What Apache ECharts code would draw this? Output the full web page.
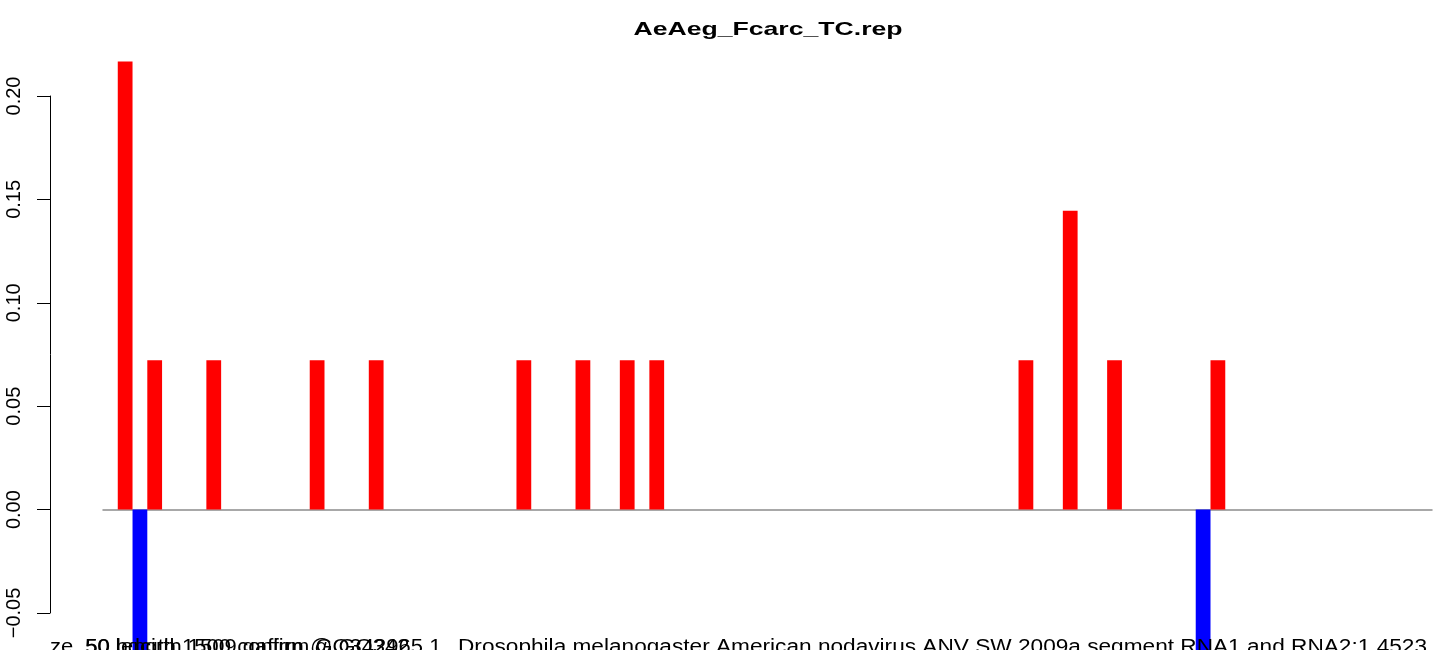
<!DOCTYPE html>
<html>
<head>
<meta charset="utf-8">
<script src="https://cdn.jsdelivr.net/npm/echarts@6/dist/echarts.min.js"></script>
<style>
html,body{margin:0;padding:0;background:#fff;}
#chart{width:1439px;height:650px;}
</style>
</head>
<body>
<div id="chart"></div>
<script>
// ---- data ----
const chartTitle = "AeAeg_Fcarc_TC.rep";
const slotCount = 90;                       // number of bar slots along the x axis
const categories = Array.from({length: slotCount}, (_, i) => String(i + 1));
const redSlots  = [1, 3, 7, 14, 18, 28, 32, 35, 37, 62, 65, 68, 75];
const redValues = [0.2167, 0.0722, 0.0722, 0.0722, 0.0722, 0.0722, 0.0722, 0.0722, 0.0722, 0.0722, 0.1445, 0.0722, 0.0722];
const blueSlots  = [2, 74];
const blueValues = [-0.0722, -0.0722];
const yTicks = [-0.05, 0.00, 0.05, 0.10, 0.15, 0.20];
const labelPrefixA = "ze_50 length 1500 confirm GQ342965.1";
const labelPrefixB = "50 bdcirth 1509 gafirm @ GQ342";
const labelDesc = "Drosophila melanogaster American nodavirus ANV SW 2009a segment RNA1 and RNA2:1 4523";

// ---- build series arrays ----
function buildSeries(slots, values) {
  const arr = new Array(slotCount).fill(null);
  slots.forEach((s, k) => { arr[s] = values[k]; });
  return arr;
}
const redData = buildSeries(redSlots, redValues);
const blueData = buildSeries(blueSlots, blueValues);

const FONT = "'Liberation Sans', Arial, Helvetica, sans-serif";
const chart = echarts.init(document.getElementById('chart'), null, {renderer: 'canvas'});
const labelStyle = {fontSize: 20, fontFamily: FONT, fill: '#000', align: 'left', verticalAlign: 'top'};
chart.setOption({
  animation: false,
  backgroundColor: '#ffffff',
  grid: {left: 103, right: 7, top: 96, bottom: 37, containLabel: false},
  xAxis: {
    type: 'category',
    data: categories,
    boundaryGap: true,
    axisLine: {show: true, onZero: true, lineStyle: {color: '#8c8c8c', width: 1.5}},
    axisTick: {show: false},
    axisLabel: {show: false},
    splitLine: {show: false}
  },
  yAxis: {
    type: 'value',
    min: yTicks[0],
    max: yTicks[yTicks.length - 1],
    interval: 0.05,
    offset: 53,
    axisLine: {show: true, lineStyle: {color: '#000', width: 1}},
    axisTick: {show: true, length: 13, lineStyle: {color: '#000', width: 1}},
    splitLine: {show: false},
    axisLabel: {
      rotate: 90,
      margin: 26,
      fontSize: 20,
      fontFamily: FONT,
      color: '#000',
      formatter: v => (v < 0 ? '\u2212' + Math.abs(v).toFixed(2) : v.toFixed(2))
    }
  },
  series: [
    {type: 'bar', name: 'pos', data: redData, stack: 'a', clip: false,
     barCategoryGap: '0%', itemStyle: {color: '#ff0000'}},
    {type: 'bar', name: 'neg', data: blueData, stack: 'a', clip: false,
     barCategoryGap: '0%', itemStyle: {color: '#0000ff'}}
  ],
  graphic: [
    {type: 'text', x: 768, y: 30, scaleX: 1.4, z: 10,
     style: {text: chartTitle, fontSize: 19, fontWeight: 'bold', fontFamily: FONT,
             fill: '#000', align: 'center', verticalAlign: 'middle'}},
    {type: 'text', x: 50, y: 637, scaleX: 1.1, z: 10,
     style: Object.assign({text: labelPrefixA}, labelStyle)},
    {type: 'text', x: 85, y: 637, scaleX: 1.1, z: 10,
     style: Object.assign({text: labelPrefixB}, labelStyle)},
    {type: 'text', x: 458, y: 637, scaleX: 1.132, z: 10,
     style: Object.assign({text: labelDesc}, labelStyle)}
  ]
});
</script>
</body>
</html>
